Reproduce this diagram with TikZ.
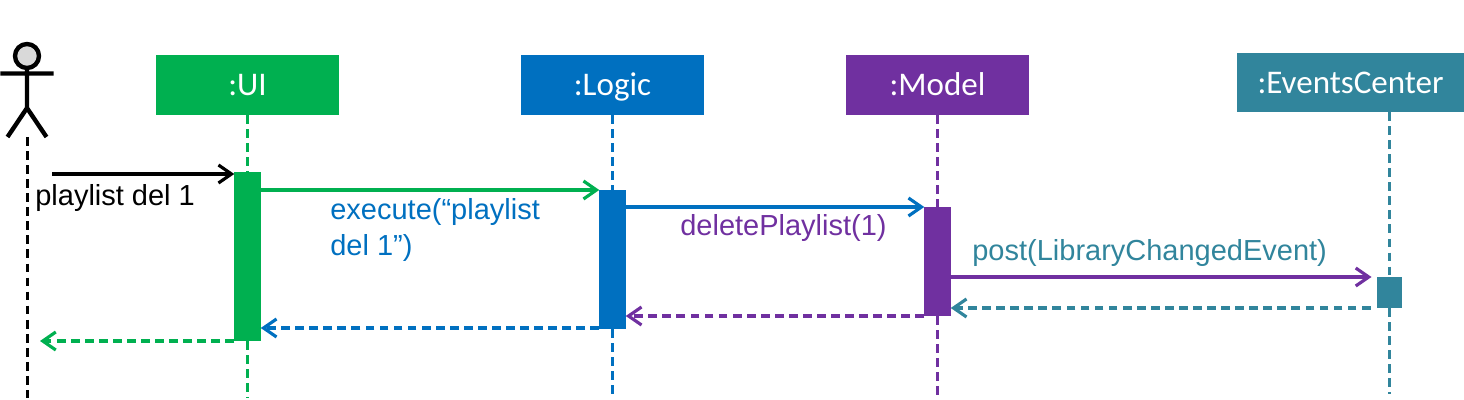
\documentclass[tikz,border=0pt]{standalone}
\usepackage{xcolor}
\usepackage{fontspec}
\setmainfont{Liberation Sans}
\newfontfamily\boxfont{Carlito}
\usetikzlibrary{arrows.meta, positioning}
\definecolor{uigreen}{HTML}{00B050}
\definecolor{logicblue}{HTML}{0070C0}
\definecolor{modelpurple}{HTML}{7030A0}
\definecolor{eventsteal}{HTML}{31859C}

\begin{document}
\begin{tikzpicture}[
  box/.style={rectangle, minimum width=3.66cm, minimum height=1.2cm, align=center,
               inner sep=0pt, outer sep=0pt, text height=12.1pt, text depth=0pt,
               text=white, font=\boxfont\fontsize{18.8}{22}\selectfont},
  bar/.style={rectangle, minimum width=0.53cm, inner sep=0pt, outer sep=0pt},
  life/.style={line width=1.7pt, dash pattern=on 5pt off 3pt},
  msg/.style={-{Straight Barb[length=0.26cm, width=0.36cm, line width=1.8pt]}, line width=1.8pt},
  back/.style={msg, dash pattern=on 5pt off 3pt},
  label/.style={font=\fontsize{16.5}{21}\selectfont, align=left, inner sep=0pt, anchor=west}
]
  \useasboundingbox (0,0) rectangle (29.28,-8);

  % participants
  \node[box, fill=uigreen, anchor=north west] (ui) at (3.12,-1.1) {:UI};
  \node[box, fill=logicblue, right=3.64cm of ui] (logic) {:Logic};
  \node[box, fill=modelpurple, right=2.84cm of logic] (model) {:Model};
  \node[box, fill=eventsteal, minimum width=4.54cm, minimum height=1.18cm, anchor=north west] (events) at (24.74,-1.06) {:EventsCenter};

  \coordinate (eventstop) at (27.78,-2.24);
  \coordinate (actortop) at (0.55,-2.74);
  \coordinate (actorend) at (0.55,-7.96);
  \coordinate (actorout) at (1.04,-3.48);
  \coordinate (actorback) at (0.8,-6.82);

  % activation bars
  \node[bar, fill=uigreen, minimum height=3.38cm, below=1.14cm of ui] (uibar) {};
  \node[bar, fill=logicblue, minimum height=2.78cm, below=1.5cm of logic] (logicbar) {};
  \node[bar, fill=modelpurple, minimum height=2.18cm, below=1.84cm of model] (modelbar) {};
  \node[bar, fill=eventsteal, minimum width=0.5cm, minimum height=0.62cm, below=3.3cm of eventstop] (eventsbar) {};

  \coordinate[below=1.14cm of uibar] (uiend);
  \coordinate[below=1.38cm of logicbar] (logicend);
  \coordinate[below=1.6cm of modelbar] (modelend);
  \coordinate[below=1.72cm of eventsbar] (eventsend);

  % lifelines
  \draw[life] (actortop) -- (actorend);
  \draw[life, uigreen] (ui.south) -- (uibar.north) (uibar.south) -- (uiend);
  \draw[life, logicblue] (logic.south) -- (logicbar.north) (logicbar.south) -- (logicend);
  \draw[life, modelpurple] (model.south) -- (modelbar.north) (modelbar.south) -- (modelend);
  \draw[life, eventsteal] (eventstop) -- (eventsbar.north) (eventsbar.south) -- (eventsend);

  % actor
  \draw[line width=2.5pt, fill=black!15] (0.54,-1.12) circle (0.24cm);
  \draw[line width=2.5pt] (0.01,-1.47) -- (1.07,-1.47) (0.54,-1.36) -- (0.54,-2.16)
    (0.15,-2.74) -- (0.54,-2.16) -- (0.93,-2.74);

  % messages
  \draw[msg] (actorout) -- (actorout -| uibar.west);
  \draw[msg, uigreen] (logicbar.north west -| uibar.east) -- (logicbar.north west);
  \draw[msg, logicblue] (modelbar.north west -| logicbar.east) -- (modelbar.north west);
  \draw[msg, modelpurple, shorten >=0.1cm] (eventsbar.north west -| modelbar.east) -- (eventsbar.north west);
  \draw[back, eventsteal, shorten <=0.12cm] (eventsbar.south west) -- (eventsbar.south west -| modelbar.east);
  \draw[back, modelpurple] (modelbar.south west) -- (modelbar.south west -| logicbar.east);
  \draw[back, logicblue] ([yshift=0.02cm]logicbar.south west) -- ([yshift=0.02cm]logicbar.south west -| uibar.east);
  \draw[back, uigreen] (uibar.south west) -- (uibar.south west -| actorback);

  % labels
  \node[label] (playlistlabel) at (0.7,-3.96) {playlist del 1};
  \node[label, text=logicblue] (executelabel) at (6.6,-4.6) {execute(“playlist\\del 1”)};
  \node[label, text=modelpurple] (deletelabel) at (13.6,-4.56) {deletePlaylist(1)};
  \node[label, text=eventsteal] (postlabel) at (19.44,-5.06) {post(LibraryChangedEvent)};
\end{tikzpicture}
\end{document}
